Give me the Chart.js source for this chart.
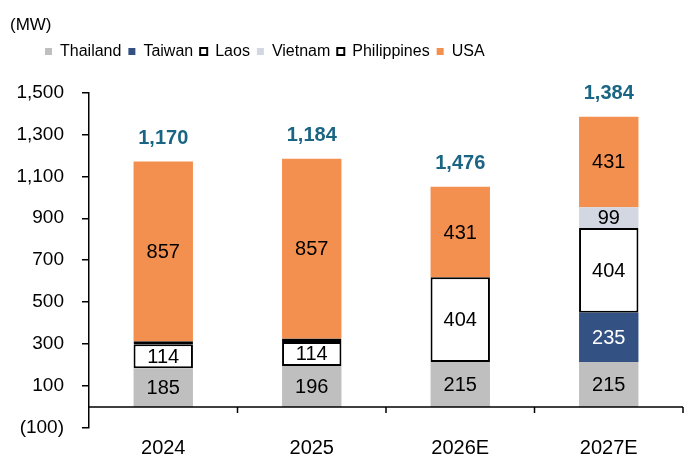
<!DOCTYPE html>
<html>
<head>
<meta charset="utf-8">
<script src="https://cdn.jsdelivr.net/npm/chart.js@4.4.0/dist/chart.umd.min.js"></script>
<style>
    html, body { margin: 0; padding: 0; background: #ffffff; }
    #wrap { width: 691px; height: 462px; }
</style>
</head>
<body>
<div id="wrap"><canvas id="capacityChart"></canvas></div>
<script>
// Installed capacity by country (MW)
const years = ['2024', '2025', '2026E', '2027E'];
const thailand = [185, 196, 215, 215];
const taiwan = [0, 0, 0, 235];
const laos = [114, 114, 404, 404];
const vietnam = [0, 0, 0, 99];
const philippines = [14, 17, 0, 0];
const usa = [857, 857, 431, 431];
// Totals as printed above each bar
const totals = [1170, 1184, 1476, 1384];

const FONT = "'Liberation Sans', Arial, sans-serif";
Chart.defaults.font.family = FONT;
Chart.defaults.color = '#000000';

// Number format with parentheses for negatives
function fmt(v) {
    const s = Math.abs(v).toLocaleString('en-US');
    return v < 0 ? '(' + s + ')' : s;
}

// Value labels inside each stacked segment
const segmentLabels = {
    id: 'segmentLabels',
    afterDatasetsDraw(chart) {
        const ctx = chart.ctx;
        ctx.save();
        ctx.font = '20px ' + FONT;
        ctx.textAlign = 'center';
        ctx.textBaseline = 'middle';
        chart.data.datasets.forEach((ds, i) => {
            const meta = chart.getDatasetMeta(i);
            meta.data.forEach((bar, j) => {
                const v = ds.data[j];
                if (v < 50) return;
                ctx.fillStyle = ds.labelColor || '#000000';
                ctx.fillText(fmt(v), bar.x, (bar.y + bar.base) / 2 + 1);
            });
        });
        ctx.restore();
    }
};

// Totals above each stack
const totalLabels = {
    id: 'totalLabels',
    afterDatasetsDraw(chart) {
        const ctx = chart.ctx;
        ctx.save();
        ctx.font = 'bold 20px ' + FONT;
        ctx.fillStyle = '#1A6584';
        ctx.textAlign = 'center';
        ctx.textBaseline = 'middle';
        totals.forEach((t, j) => {
            let top = Infinity, x = 0;
            chart.data.datasets.forEach((ds, i) => {
                const bar = chart.getDatasetMeta(i).data[j];
                if (ds.data[j] > 0 && bar.y < top) { top = bar.y; x = bar.x; }
            });
            ctx.fillText(fmt(t), x, top - 23);
        });
        ctx.restore();
    }
};

// Horizontal axis drawn at zero with tick marks between categories
const zeroAxis = {
    id: 'zeroAxis',
    afterDatasetsDraw(chart) {
        const ctx = chart.ctx;
        const xs = chart.scales.x;
        const y0 = chart.scales.y.getPixelForValue(0);
        const area = chart.chartArea;
        ctx.save();
        ctx.strokeStyle = '#000000';
        ctx.lineWidth = 1.5;
        ctx.beginPath();
        ctx.moveTo(area.left, y0);
        ctx.lineTo(area.right, y0);
        for (let i = 1; i <= years.length; i++) {
            const x = i < years.length
                ? (xs.getPixelForValue(i - 1) + xs.getPixelForValue(i)) / 2
                : area.right;
            ctx.moveTo(x, y0);
            ctx.lineTo(x, y0 + 6);
        }
        ctx.stroke();
        ctx.restore();
    }
};

// Legend spacing / offset
const legendSpacing = {
    id: 'legendSpacing',
    beforeInit(chart) {
        const fit = chart.legend.fit;
        chart.legend.fit = function () {
            fit.bind(chart.legend)();
            this.height += 24;
        };
    },
    afterLayout(chart) {
        chart.legend.left += 28;
        chart.legend.right += 28;
        chart.legend.top += 1;
        chart.legend.bottom += 1;
    }
};

function makeSet(label, data, color, extra) {
    return Object.assign({
        label: label,
        data: data,
        backgroundColor: color,
        borderWidth: 0,
        barPercentage: 0.4,
        categoryPercentage: 1.0
    }, extra || {});
}

const boxed = { borderColor: '#000000', borderWidth: 2, borderSkipped: false };

const config = {
    type: 'bar',
    data: {
        labels: years,
        datasets: [
            makeSet('Thailand', thailand, '#BFBFBF'),
            makeSet('Taiwan', taiwan, '#335283', { labelColor: '#FFFFFF' }),
            makeSet('Laos', laos, '#FFFFFF', boxed),
            makeSet('Vietnam', vietnam, '#D2D7E1'),
            makeSet('Philippines', philippines, '#FFFFFF', boxed),
            makeSet('USA', usa, '#F4904F')
        ]
    },
    options: {
        responsive: true,
        maintainAspectRatio: false,
        animation: false,
        layout: { padding: { left: 10, right: 8, top: 0, bottom: -6 } },
        plugins: {
            title: {
                display: true,
                text: '(MW)',
                align: 'start',
                color: '#000000',
                font: { size: 17, weight: 'normal' },
                padding: { top: 15, bottom: 0 }
            },
            legend: {
                display: true,
                position: 'top',
                align: 'start',
                labels: {
                    boxWidth: 7,
                    boxHeight: 7,
                    padding: 7,
                    color: '#000000',
                    font: { size: 16 }
                }
            },
            tooltip: { enabled: false }
        },
        scales: {
            x: {
                stacked: true,
                grid: { display: false, drawTicks: false },
                border: { display: false },
                ticks: { padding: 8, color: '#000000', font: { size: 20 } }
            },
            y: {
                stacked: true,
                min: -100,
                max: 1500,
                grid: {
                    display: true,
                    drawOnChartArea: false,
                    drawTicks: true,
                    tickLength: 7,
                    color: '#000000',
                    lineWidth: 1.5
                },
                border: { display: true, color: '#000000', width: 1.5 },
                ticks: {
                    stepSize: 200,
                    padding: 18,
                    color: '#000000',
                    font: { size: 19 },
                    callback: (v) => fmt(v)
                },
                afterFit(scale) { scale.width = 79; }
            }
        }
    },
    plugins: [segmentLabels, totalLabels, zeroAxis, legendSpacing]
};

new Chart(document.getElementById('capacityChart').getContext('2d'), config);
</script>
</body>
</html>
